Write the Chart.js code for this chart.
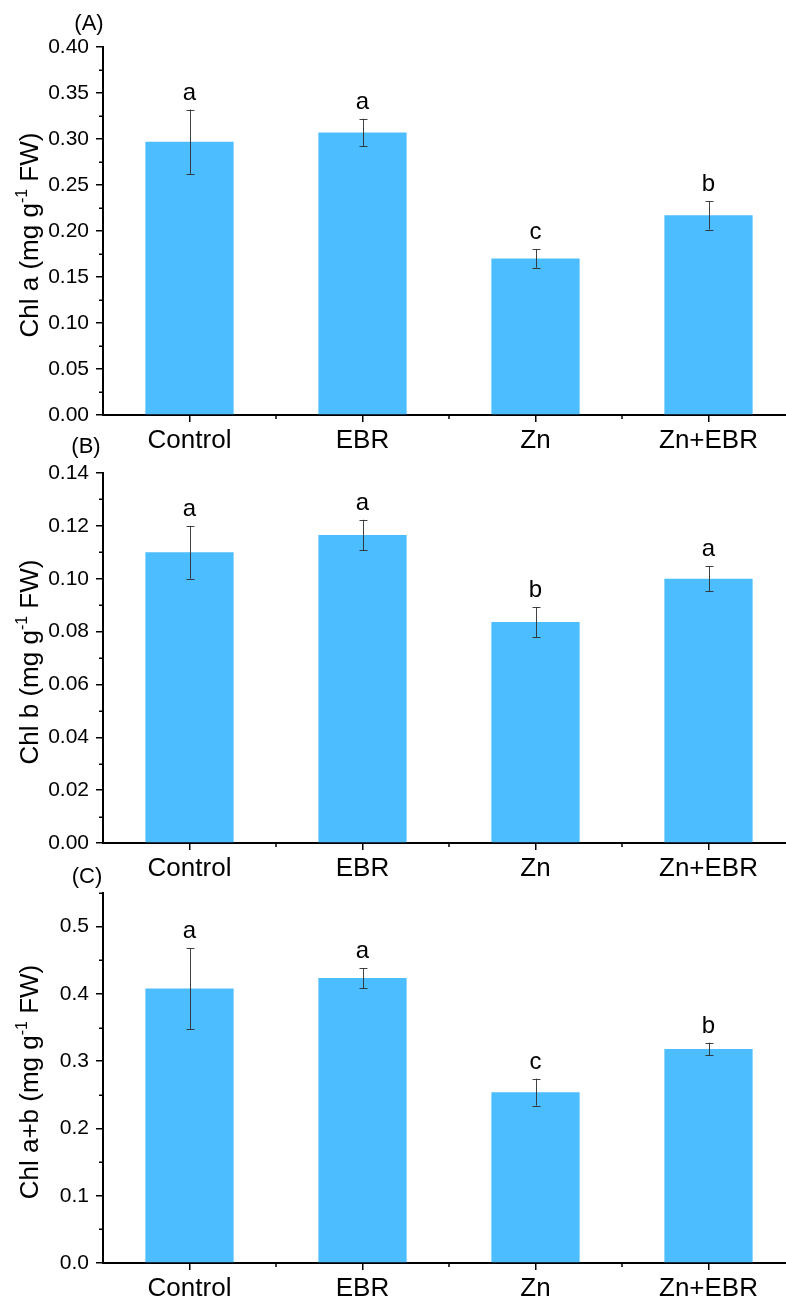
<!DOCTYPE html>
<html>
<head>
<meta charset="utf-8">
<script src="https://cdn.jsdelivr.net/npm/chart.js@4.4.1/dist/chart.umd.min.js"></script>
<style>
  html, body { margin: 0; padding: 0; background: #ffffff; overflow: hidden; }
  #wrap { position: relative; width: 786px; height: 1300px; overflow: hidden; }
  canvas { position: absolute; left: 0; top: 0; }
</style>
</head>
<body>
<div id="wrap">
  <canvas id="panelA" width="820" height="1300"></canvas>
  <canvas id="panelB" width="820" height="1300"></canvas>
  <canvas id="panelC" width="820" height="1300"></canvas>
</div>
<script>
// Treatments
const categories = ['Control', 'EBR', 'Zn', 'Zn+EBR'];

// (A) Chl a, mg g-1 FW
const chlA = [0.297, 0.307, 0.170, 0.217];
const chlAErr = [0.035, 0.015, 0.010, 0.0155];
const chlALetters = ['a', 'a', 'c', 'b'];

// (B) Chl b, mg g-1 FW
const chlB = [0.110, 0.1165, 0.0836, 0.100];
const chlBErr = [0.010, 0.0058, 0.0057, 0.0048];
const chlBLetters = ['a', 'a', 'b', 'a'];

// (C) Chl a+b, mg g-1 FW
const chlAB = [0.408, 0.4235, 0.254, 0.318];
const chlABErr = [0.060, 0.015, 0.020, 0.0095];
const chlABLetters = ['a', 'a', 'c', 'b'];

const FONT = '"Liberation Sans", Arial, Helvetica, sans-serif';
const BAR_COLOR = '#4cbdfe';
const CANVAS_H = 1300;
const X_AXIS_H = 35;

// Draws error bars, significance letters, minor ticks, panel tag and the axis title
const panelDecor = {
  id: 'panelDecor',
  afterDatasetsDraw(chart) {
    const o = chart.options.plugins.panelDecor;
    const ctx = chart.ctx;
    const ys = chart.scales.y;
    const meta = chart.getDatasetMeta(0);

    ctx.save();
    ctx.strokeStyle = 'rgba(45,45,45,0.9)';
    ctx.lineWidth = 1;
    meta.data.forEach((bar, i) => {
      const v = chart.data.datasets[0].data[i];
      const e = o.errors[i];
      const x = Math.round(bar.x) + 0.5;
      const yTop = ys.getPixelForValue(v + e);
      const yBot = ys.getPixelForValue(v - e);
      ctx.beginPath();
      ctx.moveTo(x, yTop); ctx.lineTo(x, yBot);
      ctx.moveTo(x - 4, Math.round(yTop) + 0.5); ctx.lineTo(x + 4, Math.round(yTop) + 0.5);
      ctx.moveTo(x - 4, Math.round(yBot) + 0.5); ctx.lineTo(x + 4, Math.round(yBot) + 0.5);
      ctx.stroke();

      // significance letter
      ctx.fillStyle = '#000';
      ctx.font = '24px ' + FONT;
      ctx.textAlign = 'center';
      ctx.textBaseline = 'alphabetic';
      ctx.fillText(o.letters[i], bar.x, yTop - 10);
    });
    ctx.restore();
  },
  afterDraw(chart) {
    const o = chart.options.plugins.panelDecor;
    const ctx = chart.ctx;
    const xs = chart.scales.x, ys = chart.scales.y;
    const area = chart.chartArea;

    ctx.save();
    ctx.strokeStyle = '#000';
    ctx.lineWidth = 1.5;
    // minor y ticks
    o.minorY.forEach(v => {
      const y = Math.round(ys.getPixelForValue(v)) + 0.25;
      ctx.beginPath();
      ctx.moveTo(area.left - 4, y); ctx.lineTo(area.left, y);
      ctx.stroke();
    });
    // minor x ticks between categories
    const step = xs.getPixelForValue(1) - xs.getPixelForValue(0);
    for (let i = 0; i < categories.length; i++) {
      const x = Math.round(xs.getPixelForValue(i) + step / 2);
      ctx.beginPath();
      ctx.moveTo(x, area.bottom); ctx.lineTo(x, area.bottom + 4);
      ctx.stroke();
    }

    // panel tag
    ctx.fillStyle = '#000';
    ctx.font = '22px ' + FONT;
    ctx.textAlign = 'center';
    ctx.textBaseline = 'middle';
    ctx.fillText(o.tag, o.tagX, o.tagY);

    // rotated y-axis title with superscript
    const big = '26px ' + FONT, small = '16px ' + FONT;
    const parts = [[o.titleStart, big, 0], ['-1', small, -11], [' FW)', big, 0]];
    let total = 0;
    parts.forEach(p => { ctx.font = p[1]; total += ctx.measureText(p[0]).width; });
    ctx.translate(38, (area.top + area.bottom) / 2 + 4);
    ctx.rotate(-Math.PI / 2);
    ctx.textAlign = 'left';
    ctx.textBaseline = 'alphabetic';
    let cx = -total / 2;
    parts.forEach(p => {
      ctx.font = p[1];
      ctx.fillText(p[0], cx, p[2]);
      cx += ctx.measureText(p[0]).width;
    });
    ctx.restore();
  }
};

function makePanel(id, cfg) {
  const axisGrid = {
    drawOnChartArea: false, drawTicks: true, tickLength: 7,
    color: '#000', lineWidth: 1.5
  };
  return new Chart(document.getElementById(id), {
    type: 'bar',
    data: {
      labels: categories,
      datasets: [{
        data: cfg.values,
        backgroundColor: BAR_COLOR,
        borderWidth: 0,
        barPercentage: 0.51,
        categoryPercentage: 1
      }]
    },
    options: {
      responsive: false,
      animation: false,
      devicePixelRatio: 1,
      layout: {
        padding: { top: cfg.top, bottom: CANVAS_H - cfg.bottom - X_AXIS_H, left: 0, right: 25 }
      },
      plugins: {
        legend: { display: false },
        tooltip: { enabled: false },
        panelDecor: {
          errors: cfg.errors, letters: cfg.letters, minorY: cfg.minorY,
          tag: cfg.tag, tagX: cfg.tagX, tagY: cfg.tagY, titleStart: cfg.titleStart
        }
      },
      scales: {
        x: {
          offset: true,
          grid: Object.assign({ offset: false }, axisGrid),
          border: { display: true, color: '#000', width: 2 },
          ticks: { font: { size: 26, family: FONT }, color: '#000', padding: 3, maxRotation: 0, autoSkip: false },
          afterFit: s => { s.height = X_AXIS_H; }
        },
        y: {
          min: 0, max: cfg.max,
          grid: axisGrid,
          border: { display: true, color: '#000', width: 2 },
          ticks: {
            stepSize: cfg.step,
            color: '#000',
            padding: 7,
            font: { size: 21, family: FONT },
            callback: v => v.toFixed(cfg.decimals)
          },
          afterBuildTicks: s => {
            s.ticks = s.ticks.filter(t => t.value <= cfg.majorMax + 1e-9);
          },
          afterFit: s => { s.width = 103; }
        }
      }
    },
    plugins: [panelDecor]
  });
}

makePanel('panelA', {
  values: chlA, errors: chlAErr, letters: chlALetters,
  top: 47, bottom: 415, max: 0.40, majorMax: 0.40, step: 0.05, decimals: 2,
  minorY: [0.025, 0.075, 0.125, 0.175, 0.225, 0.275, 0.325, 0.375],
  tag: '(A)', tagX: 89, tagY: 24, titleStart: 'Chl a (mg g'
});

makePanel('panelB', {
  values: chlB, errors: chlBErr, letters: chlBLetters,
  top: 473, bottom: 843, max: 0.14, majorMax: 0.14, step: 0.02, decimals: 2,
  minorY: [0.01, 0.03, 0.05, 0.07, 0.09, 0.11, 0.13],
  tag: '(B)', tagX: 86, tagY: 447, titleStart: 'Chl b (mg g'
});

makePanel('panelC', {
  values: chlAB, errors: chlABErr, letters: chlABLetters,
  top: 893, bottom: 1263, max: 0.55, majorMax: 0.5, step: 0.1, decimals: 1,
  minorY: [0.05, 0.15, 0.25, 0.35, 0.45, 0.55],
  tag: '(C)', tagX: 87, tagY: 877, titleStart: 'Chl a+b (mg g'
});
</script>
</body>
</html>
